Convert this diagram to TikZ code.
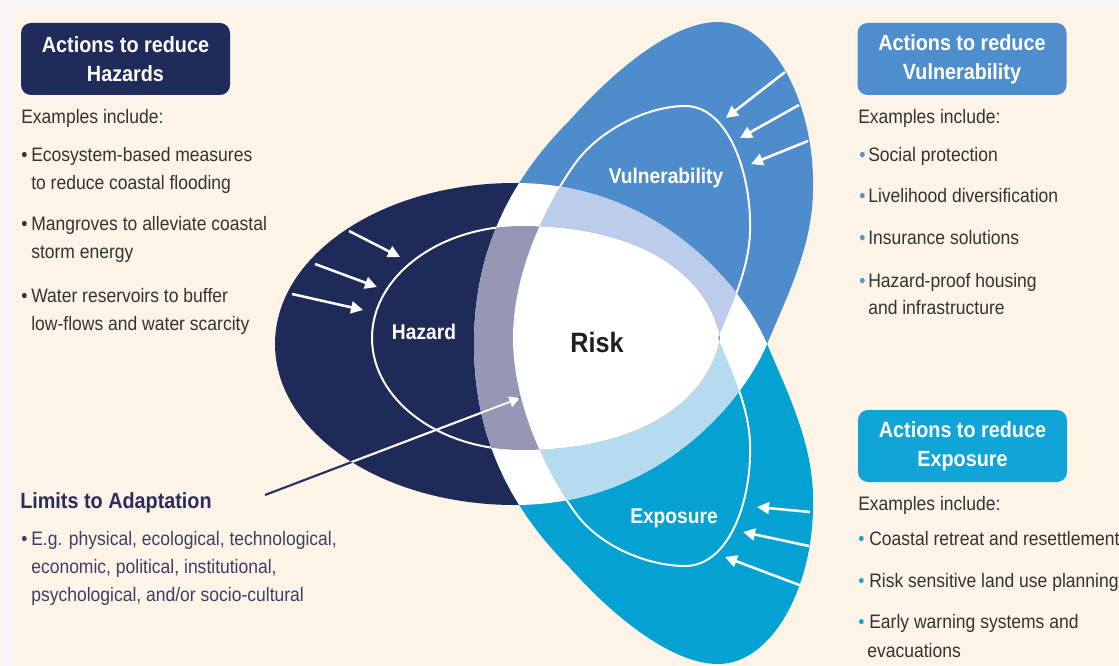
\documentclass[tikz,border=0pt]{standalone}
\usepackage{fontspec}
\setmainfont{Liberation Sans}[FakeStretch=0.9]
\usetikzlibrary{arrows.meta}
\definecolor{cream}{HTML}{FDF3E6}
\definecolor{marginc}{HTML}{F5F5F5}
\definecolor{hnavy}{HTML}{1E2A57}
\definecolor{vblue}{HTML}{4E8CCB}
\definecolor{ecyan}{HTML}{03A2D2}
\definecolor{tgray}{HTML}{9597B4}
\definecolor{tblue}{HTML}{BBCDEB}
\definecolor{tcyan}{HTML}{B6DAEE}
\definecolor{bodytxt}{HTML}{333333}
\definecolor{limtxt}{HTML}{3C4064}
\definecolor{limhead}{HTML}{2A2E5C}
\definecolor{limline}{HTML}{27305E}
\definecolor{boxnavy}{HTML}{1F2C5B}
\definecolor{boxblue}{HTML}{4F8ECD}
\definecolor{boxcyan}{HTML}{10A5D6}
\definecolor{vbul}{HTML}{5A8FC8}
\definecolor{ebul}{HTML}{1BA3D3}
\begin{document}
\begin{tikzpicture}[x=0.75pt,y=-0.75pt,
  body/.style={anchor=base west,inner sep=0pt,text=bodytxt,font=\fontsize{14.6}{17}\selectfont},
  bul/.style={anchor=base west,inner sep=0pt,font=\fontsize{14.6}{17}\selectfont},
  limbody/.style={anchor=base west,inner sep=0pt,text=limtxt,font=\fontsize{14.6}{17}\selectfont},
  headbox/.style={rounded corners=7.5pt,minimum width=156.75pt,minimum height=54pt,align=center,text=white,font=\bfseries\fontsize{16.5}{21.75}\selectfont,inner sep=0pt},
  inlabel/.style={anchor=base,inner sep=0pt,text=white,font=\bfseries\fontsize{16}{19}\selectfont},
  inarrow/.style={draw=white,line width=1.9pt,-{Triangle[length=9pt,width=9pt]}},
  inline/.style={draw=white,line width=1.5pt}]
\def\pathH{(767,344) .. controls (745,290) and (660,183) .. (515,183) arc[start angle=270,end angle=90,x radius=240,y radius=161] .. controls (660,505) and (745,398) .. (767,344) -- cycle}
\def\pathV{(767,344) .. controls (790,290) and (815,240) .. (813,180) .. controls (812,100) and (772,22) .. (718,22) .. controls (670,22) and (610,75) .. (570,120) .. controls (520,170) and (474,240) .. (474,344) -- cycle}
\def\pathE{(767,344) .. controls (790,398) and (815,448) .. (813,508) .. controls (812,588) and (772,664) .. (718,664) .. controls (670,664) and (610,613) .. (570,568) .. controls (520,518) and (474,448) .. (474,344) -- cycle}
\def\pathIH{(720,338) .. controls (708,275) and (640,226) .. (522,226) arc[start angle=270,end angle=90,x radius=150,y radius=112] .. controls (640,450) and (708,401) .. (720,338) -- cycle}
\def\pathIV{(718,338) .. controls (734,299) and (752,263) .. (750,220) .. controls (749,169) and (727,106) .. (685,106) .. controls (650,106) and (600,128) .. (574,165) .. controls (548,202) and (513,270) .. (513,338) -- cycle}
\def\pathIE{(718,338) .. controls (734,377) and (752,413) .. (750,456) .. controls (749,507) and (727,566) .. (685,566) .. controls (650,566) and (600,548) .. (574,511) .. controls (548,474) and (513,406) .. (513,338) -- cycle}
\useasboundingbox (0,0) rectangle (1119,666);
\fill[marginc] (0,0) rectangle (1119,666);
\fill[cream] (13,10) rectangle (1119,666);
% outer petals
\fill[hnavy] \pathH;
\fill[vblue] \pathV;
\fill[ecyan] \pathE;
% inner outlines
\draw[inline] \pathIH;
\draw[inline] \pathIV;
\draw[inline] \pathIE;
% overlap zone
\begin{scope}
  \clip \pathH;
  \fill[white] \pathV;
  \fill[white] \pathE;
  \fill[tblue] \pathIV;
  \fill[tcyan] \pathIE;
\end{scope}
\begin{scope}
  \clip \pathIH;
  \fill[tgray] \pathV;
  \fill[tgray] \pathE;
  \fill[white] \pathIV;
  \fill[white] \pathIE;
\end{scope}
% arrows into hazard
\coordinate (ha1s) at (349,231); \coordinate (ha1e) at (400,257);
\coordinate (ha2s) at (315,264); \coordinate (ha2e) at (377,287);
\coordinate (ha3s) at (292,294); \coordinate (ha3e) at (363,310);
\draw[inarrow] (ha1s) -- (ha1e);
\draw[inarrow] (ha2s) -- (ha2e);
\draw[inarrow] (ha3s) -- (ha3e);
% arrows into vulnerability
\coordinate (va1s) at (785,72); \coordinate (va1e) at (726,118);
\coordinate (va2s) at (799,105); \coordinate (va2e) at (740,138);
\coordinate (va3s) at (808,141); \coordinate (va3e) at (751,164);
\draw[inarrow] (va1s) -- (va1e);
\draw[inarrow] (va2s) -- (va2e);
\draw[inarrow] (va3s) -- (va3e);
% arrows into exposure
\coordinate (ea1s) at (810,512); \coordinate (ea1e) at (757,507);
\coordinate (ea2s) at (809,546); \coordinate (ea2e) at (743,532);
\coordinate (ea3s) at (802,586); \coordinate (ea3e) at (725,557);
\draw[inarrow] (ea1s) -- (ea1e);
\draw[inarrow] (ea2s) -- (ea2e);
\draw[inarrow] (ea3s) -- (ea3e);
% limits arrow
\coordinate (ls) at (265,495); \coordinate (le) at (520,398);
\draw[limline,line width=1.6pt] (ls) -- (le);
\begin{scope}
  \clip \pathH;
  \draw[white,line width=1.6pt,-{Triangle[length=8pt,width=8pt]}] (ls) -- (le);
\end{scope}
% labels in diagram
\node[inlabel] (lhaz) at (424,339) {Hazard};
\node[inlabel] (lvul) at (666,184) {Vulnerability};
\node[inlabel] (lexp) at (674,523) {Exposure};
\node[anchor=base,inner sep=0pt,text=black!88,font=\bfseries\fontsize{21}{25}\selectfont] (lrisk) at (597,352) {Risk};
% header boxes
\node[headbox,fill=boxnavy] (hbox) at (125.5,59) {Actions to reduce\\Hazards};
\node[headbox,fill=boxblue] (vbox) at (962,59) {Actions to reduce\\Vulnerability};
\node[headbox,fill=boxcyan] (ebox) at (962.5,446) {Actions to reduce\\Exposure};
% hazard list
\node[body] (hex) at (21,124) {Examples include:};
\node[bul,text=bodytxt] (hb1) at (21,162) {•};
\node[body] (h1a) at (31,162) {Ecosystem-based measures};
\node[body] (h1b) at (31,190) {to reduce coastal flooding};
\node[bul,text=bodytxt] (hb2) at (21,231) {•};
\node[body] (h2a) at (31,231) {Mangroves to alleviate coastal};
\node[body] (h2b) at (31,259) {storm energy};
\node[bul,text=bodytxt] (hb3) at (21,302) {•};
\node[body] (h3a) at (31,302) {Water reservoirs to buffer};
\node[body] (h3b) at (31,330) {low-flows and water scarcity};
% vulnerability list
\node[body] (vex) at (858,124) {Examples include:};
\node[bul,text=vbul] (vb1) at (859,162) {•};
\node[body] (v1) at (868,162) {Social protection};
\node[bul,text=vbul] (vb2) at (859,203) {•};
\node[body] (v2) at (868,203) {Livelihood diversification};
\node[bul,text=vbul] (vb3) at (859,245) {•};
\node[body] (v3) at (868,245) {Insurance solutions};
\node[bul,text=vbul] (vb4) at (859,287) {•};
\node[body] (v4a) at (868,287) {Hazard-proof housing};
\node[body] (v4b) at (868,315) {and infrastructure};
% exposure list
\node[body] (eex) at (858,510) {Examples include:};
\node[bul,text=ebul] (eb1) at (858,545) {•};
\node[body] (e1) at (869,545) {Coastal retreat and resettlement};
\node[bul,text=ebul] (eb2) at (858,587) {•};
\node[body] (e2) at (869,587) {Risk sensitive land use planning};
\node[bul,text=ebul] (eb3) at (858,628) {•};
\node[body] (e3a) at (869,628) {Early warning systems and};
\node[body] (e3b) at (867,657) {evacuations};
% limits
\node[anchor=base west,inner sep=0pt,text=limhead,font=\bfseries\fontsize{16.5}{19}\selectfont] (lim) at (20,508) {Limits to Adaptation};
\node[bul,text=limtxt] (lb1) at (21,545) {•};
\node[limbody] (l1) at (31,545) {E.g. physical, ecological, technological,};
\node[limbody] (l2) at (31,573) {economic, political, institutional,};
\node[limbody] (l3) at (31,601) {psychological, and/or socio-cultural};
\end{tikzpicture}
\end{document}
